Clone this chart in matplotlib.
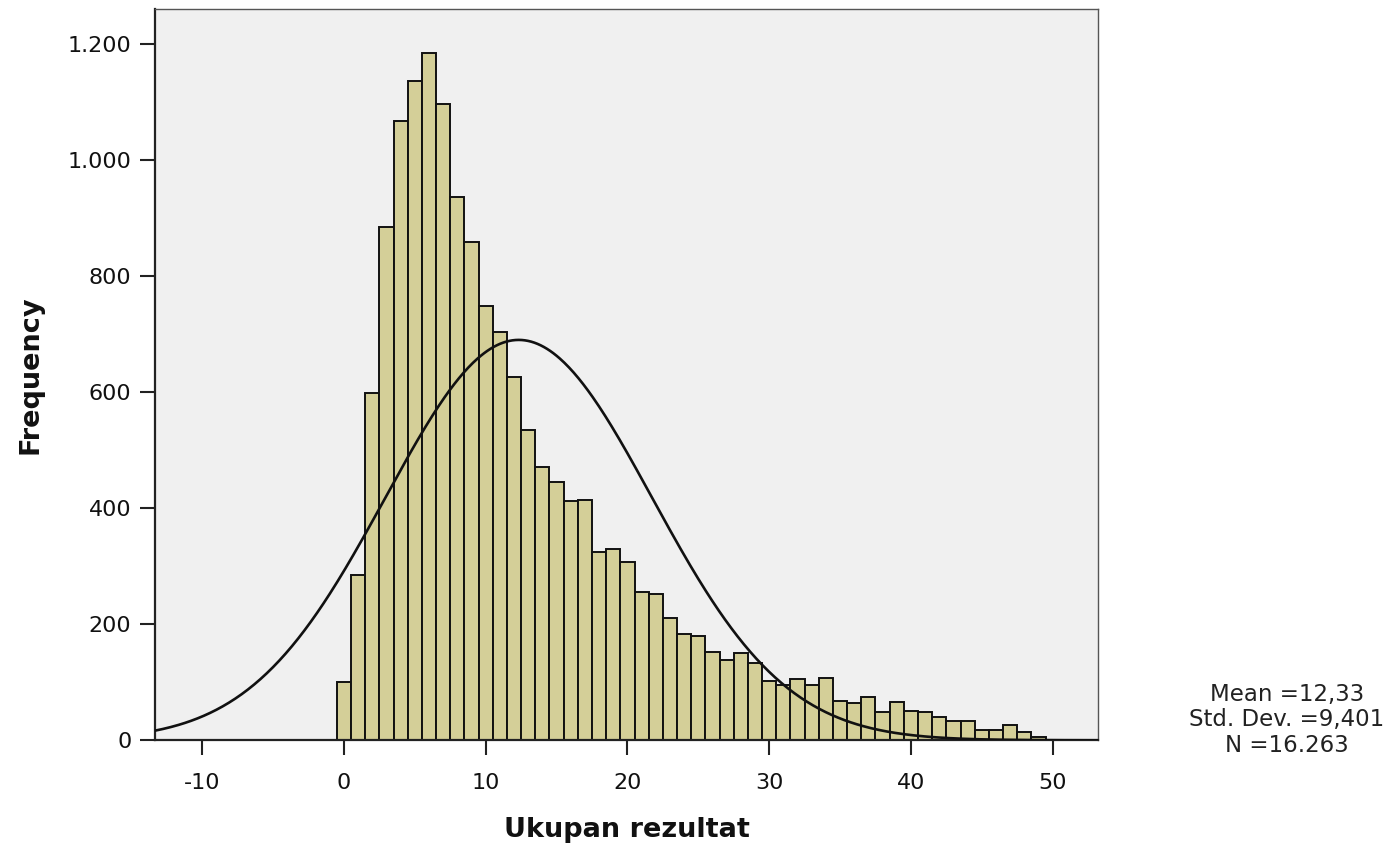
import numpy as np
from matplotlib import pyplot as plt
from matplotlib.ticker import FuncFormatter

plt.rcParams['axes.unicode_minus'] = False

# Ukupan rezultat: broj ispitanika po bodu (0..49)
bodovi = np.arange(0, 50)
frekvencije = [100, 285, 598, 884, 1067, 1137, 1185, 1097, 936, 859,
               749, 704, 627, 535, 471, 445, 412, 414, 325, 330,
               307, 256, 253, 210, 183, 179, 153, 139, 150, 134,
               103, 96, 105, 96, 108, 67, 65, 75, 49, 66,
               51, 48, 40, 33, 33, 18, 18, 26, 14, 5]

mean = 12.33
std_dev = 9.401
n_total = 16263

x_ticks = [-10, 0, 10, 20, 30, 40, 50]
y_ticks = [0, 200, 400, 600, 800, 1000, 1200]


def thousands(v, pos):
    return f'{int(v):,}'.replace(',', '.')


fig = plt.figure(figsize=(13.98, 8.47), dpi=100)
ax = fig.add_axes([0.11087, 0.12597, 0.67454, 0.86305])
ax.set_facecolor('#F0F0F0')

ax.bar(bodovi, frekvencije, width=1.0, color='#D4CF98', edgecolor='#111111', linewidth=1.4, zorder=2)

# normalna krivulja za dane parametre
xmin, xmax = -13.33, 53.2
xs = np.linspace(xmin, xmax, 600)
ys = n_total / (std_dev * np.sqrt(2 * np.pi)) * np.exp(-0.5 * ((xs - mean) / std_dev) ** 2)
ax.plot(xs, ys, color='#111111', linewidth=1.9, zorder=3)

ax.set_xlim(xmin, xmax)
ax.set_ylim(0, 1260)
ax.set_xticks(x_ticks)
ax.set_yticks(y_ticks)
ax.yaxis.set_major_formatter(FuncFormatter(thousands))
ax.tick_params(axis='both', labelsize=16, length=10.5, width=1.5, color='#222222', labelcolor='#111111')
ax.tick_params(axis='x', pad=13)
ax.tick_params(axis='y', pad=6.5)

for side in ['left', 'bottom']:
    ax.spines[side].set_linewidth(1.6)
    ax.spines[side].set_color('#222222')
for side in ['top', 'right']:
    ax.spines[side].set_linewidth(1.0)
    ax.spines[side].set_color('#555555')

fig.text(0.4482, 1 - 836.7 / 847, 'Ukupan rezultat', ha='center', va='baseline',
         fontsize=19.5, fontweight='bold', color='#111111')
fig.text(31 / 1398, 0.5575, 'Frequency', ha='center', va='center', rotation=90,
         fontsize=19.5, fontweight='bold', color='#111111')

cx = 1287 / 1398
fig.text(cx, 1 - 700.7 / 847, 'Mean =12,33', ha='center', va='baseline', fontsize=16.5, color='#222222')
fig.text(cx, 1 - 725.5 / 847, 'Std. Dev. =9,401', ha='center', va='baseline', fontsize=16.5, color='#222222')
fig.text(cx, 1 - 751.5 / 847, 'N =16.263', ha='center', va='baseline', fontsize=16.5, color='#222222')

plt.savefig('out.png', dpi=100)
